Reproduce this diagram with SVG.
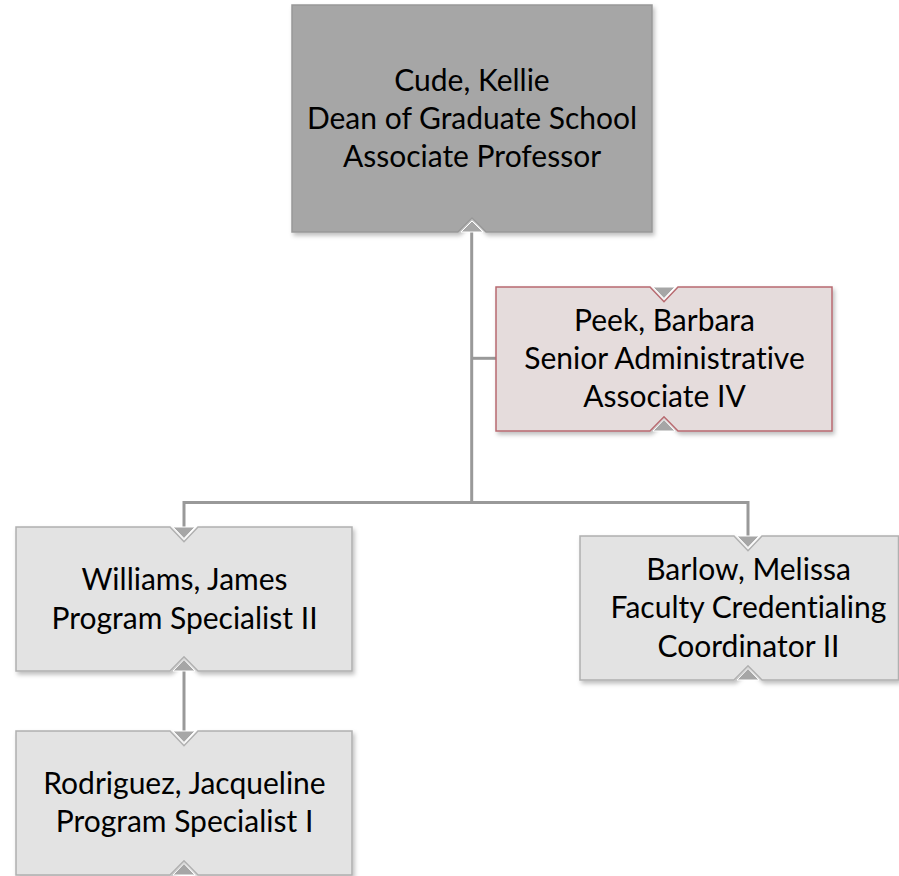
<svg xmlns="http://www.w3.org/2000/svg" width="899" height="876" viewBox="0 0 899 876">
<style>
  text { font-family: Lato, "Liberation Sans", sans-serif; font-size: 30px; fill: #000; text-anchor: middle; font-variant-ligatures: none; font-feature-settings: "liga" 0, "clig" 0; }
  .conn { fill: none; stroke: #999999; stroke-width: 3; }
  .top { fill: #a6a6a6; stroke: #989898; stroke-width: 1.5; }
  .asst { fill: #e5dcdc; stroke: #b86a70; stroke-width: 1.5; }
  .box { fill: #e3e3e3; stroke: #b0b0b0; stroke-width: 1.5; }
  .tri { fill: #a6a6a6; stroke: #ffffff; stroke-width: 1; }
</style>
<defs>
  <filter id="sh" x="-10%" y="-10%" width="130%" height="130%">
    <feDropShadow dx="2" dy="3" stdDeviation="2" flood-color="#000" flood-opacity="0.25"/>
  </filter>
</defs>
<rect width="899" height="876" fill="#ffffff"/>
<g id="connectors">
  <path class="conn" d="M471.7 232 V502.5"/>
  <path class="conn" d="M471.7 358.3 H496"/>
  <path class="conn" d="M184 527 V502.5 H748 V536"/>
  <path class="conn" d="M184 671 V731"/>
</g>
<g id="n-cude">
  <path class="top" filter="url(#sh)" d="M292 5 H652 V232 H486 L472 218 L458 232 H292 Z"/>
  <polygon class="tri" points="461,232 483,232 472,221"/>
  <text x="472" y="91">Cude, Kellie</text>
  <text x="472" y="129">Dean of Graduate School</text>
  <text x="472" y="167">Associate Professor</text>
</g>
<g id="n-peek">
  <path class="asst" filter="url(#sh)" d="M496 287 H650 L664 301.7 L678 287 H832 V431 H678 L664 416.7 L650 431 H496 Z"/>
  <polygon class="tri" points="653,287 675,287 664,298.5"/>
  <polygon class="tri" points="653,431 675,431 664,419.5"/>
  <text x="664.5" y="331">Peek, Barbara</text>
  <text x="664.5" y="369">Senior Administrative</text>
  <text x="664.5" y="407">Associate IV</text>
</g>
<g id="n-williams">
  <path class="box" filter="url(#sh)" d="M16 527 H170 L184 541.7 L198 527 H352 V671 H198 L184 656.7 L170 671 H16 Z"/>
  <polygon class="tri" points="173,527 195,527 184,538.5"/>
  <polygon class="tri" points="173,671 195,671 184,659.5"/>
  <text x="184.5" y="590">Williams, James</text>
  <text x="184.5" y="629">Program Specialist II</text>
</g>
<g id="n-barlow">
  <path class="box" filter="url(#sh)" d="M580 536 H734 L748 550.7 L762 536 H898.5 V680 H762 L748 665.7 L734 680 H580 Z"/>
  <polygon class="tri" points="737,536 759,536 748,547.5"/>
  <polygon class="tri" points="737,680 759,680 748,668.5"/>
  <text x="748.5" y="579.5">Barlow, Melissa</text>
  <text x="748.5" y="618">Faculty Credentialing</text>
  <text x="748.5" y="657">Coordinator II</text>
</g>
<g id="n-rodriguez">
  <path class="box" filter="url(#sh)" d="M16 731 H170 L184 745.7 L198 731 H352 V875 H198 L184 860.7 L170 875 H16 Z"/>
  <polygon class="tri" points="173,731 195,731 184,742.5"/>
  <polygon class="tri" points="173,875 195,875 184,863.5"/>
  <text x="184.5" y="794">Rodriguez, Jacqueline</text>
  <text x="184.5" y="832">Program Specialist I</text>
</g>
</svg>
